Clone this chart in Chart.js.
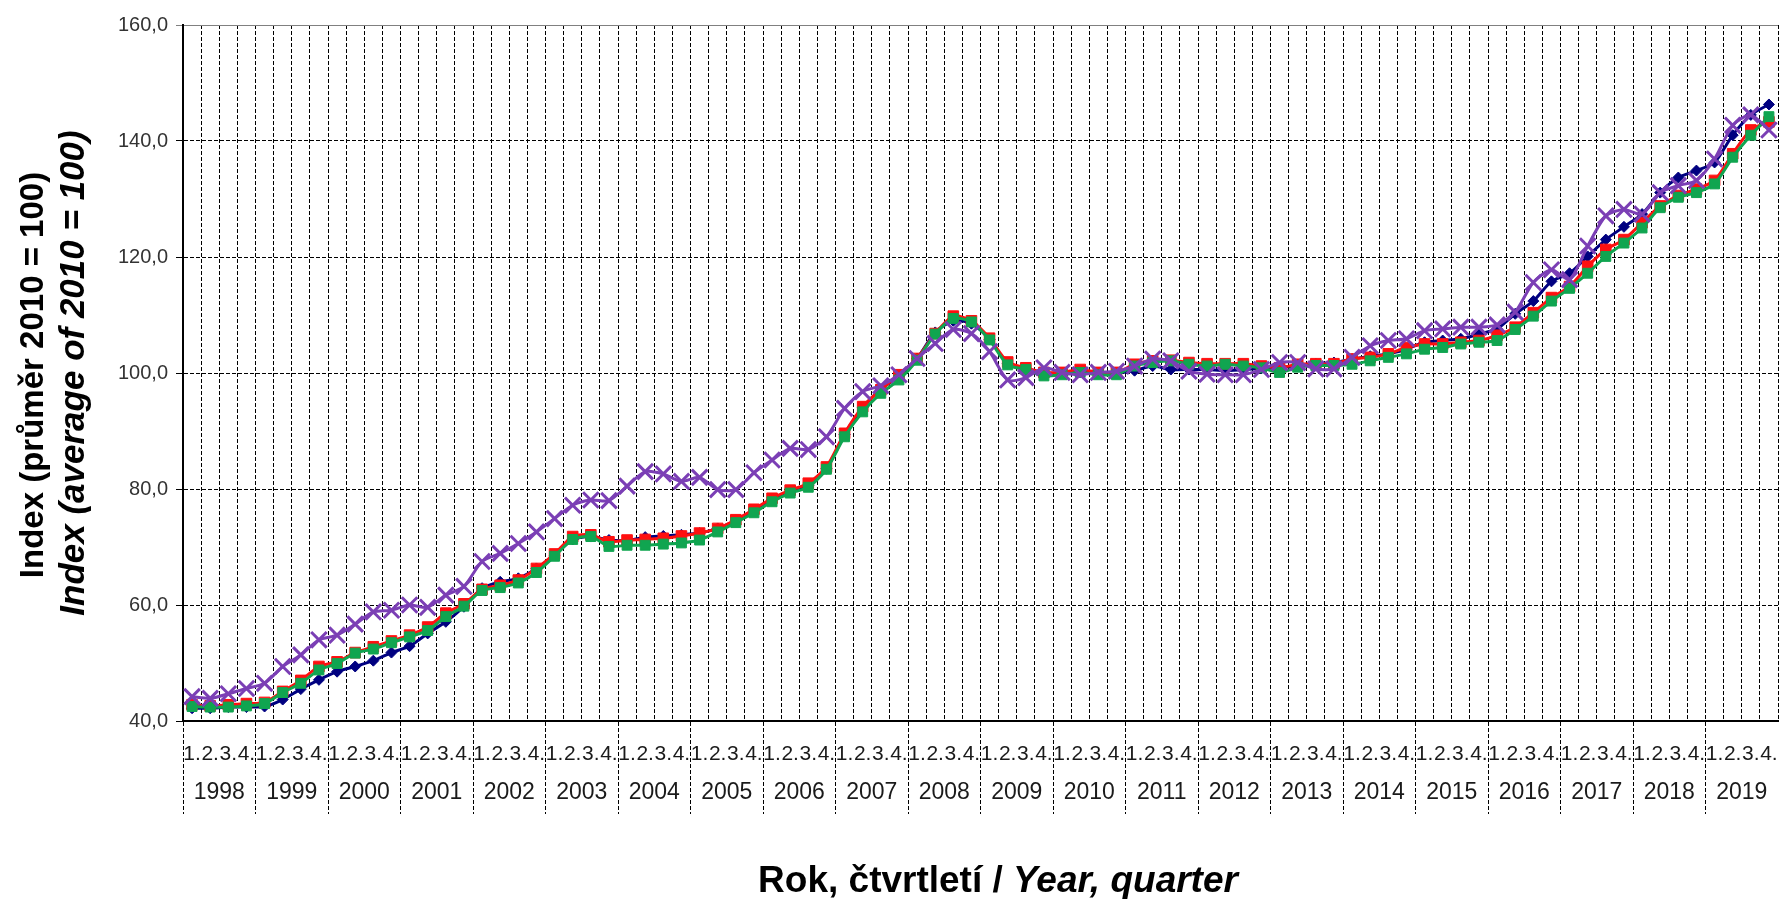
<!DOCTYPE html>
<html>
<head>
<meta charset="utf-8">
<script src="https://cdn.jsdelivr.net/npm/chart.js@4.4.1/dist/chart.umd.min.js"></script>
<style>
  html, body { margin: 0; padding: 0; background: #fff; overflow: hidden; }
  #wrap { position: absolute; left: 0; top: 0; width: 1792px; height: 899px; }
</style>
</head>
<body>
<div id="wrap"><canvas id="indexChart"></canvas></div>
<script>
// Popisky os
const yearLabels = ['1998', '1999', '2000', '2001', '2002', '2003', '2004', '2005', '2006', '2007', '2008',
                    '2009', '2010', '2011', '2012', '2013', '2014', '2015', '2016', '2017', '2018', '2019'];
const quarterLabels = ['1.', '2.', '3.', '4.'];
const yTicks = [40, 60, 80, 100, 120, 140, 160];

const xTitleBold = 'Rok, čtvrtletí / ';
const xTitleItalic = 'Year, quarter';
const yTitleCz = 'Index (průměr 2010 = 100)';
const yTitleEn = 'Index (average of 2010 = 100)';

// Hodnoty indexu po čtvrtletích (1998 Q1 – 2019 Q4)
const navySeries = [
    42.2, 42.2, 42.4, 42.4, 42.5, 43.7, 45.5, 47.1, 48.5, 49.4, 50.4, 51.8, 52.9, 55.1, 57.1, 59.7,
    62.9, 64.0, 64.6, 66.3, 68.6, 71.3, 71.8, 71.2, 71.1, 71.7, 71.9, 72.1, 72.4, 73.2, 74.6, 76.4,
    78.2, 79.6, 80.6, 83.5, 89.4, 94.0, 97.2, 99.4, 102.5, 107.0, 109.0, 108.5, 105.8, 101.6,
    100.5, 100.0, 100.0, 100.2, 99.9, 100.0, 100.4, 101.2, 100.6, 100.6, 100.6, 100.4, 100.6, 100.8, 101.0, 101.2,
    101.6, 101.8, 102.4, 102.9, 103.3, 104.1, 105.3, 105.6, 105.9, 106.7, 107.6, 110.2, 112.4, 115.8,
    117.2, 120.1, 123.0, 125.2, 127.4, 131.1, 133.7, 134.9, 136.3, 141.0, 144.5, 146.3
];
const redSeries = [
    42.8, 42.6, 42.8, 43.0, 43.2, 45.1, 47.0, 49.4, 50.2, 51.8, 52.8, 53.8, 54.8, 56.2, 58.6, 60.2,
    62.7, 63.4, 64.3, 66.3, 68.8, 71.8, 72.1, 70.9, 71.2, 71.3, 71.5, 71.9, 72.4, 73.2, 74.7, 76.5,
    78.4, 79.8, 81.0, 83.8, 89.6, 94.2, 97.1, 99.7, 102.5, 106.8, 109.8, 109.0, 106.0, 101.9,
    100.9, 100.1, 100.1, 100.6, 100.1, 100.1, 101.5, 102.1, 102.2, 101.8, 101.6, 101.6, 101.6, 101.2, 100.9, 101.5,
    101.6, 101.6, 102.4, 102.7, 103.3, 104.4, 105.0, 105.0, 105.3, 105.6, 106.5, 107.9, 110.4, 113.0,
    114.9, 118.4, 121.3, 123.0, 125.9, 128.8, 130.6, 131.7, 133.2, 137.8, 141.9, 143.3
];
const greenSeries = [
    42.5, 42.4, 42.4, 42.6, 43.0, 44.9, 46.5, 48.8, 49.9, 51.7, 52.4, 53.5, 54.5, 55.6, 58.0, 59.8,
    62.5, 63.0, 63.8, 65.6, 68.4, 71.3, 71.8, 70.1, 70.3, 70.3, 70.5, 70.7, 71.2, 72.6, 74.2, 75.9,
    77.8, 79.3, 80.3, 83.4, 89.0, 93.3, 96.5, 98.8, 102.2, 106.7, 109.4, 108.8, 105.7, 101.4,
    100.6, 99.5, 99.7, 100.1, 99.7, 99.7, 101.2, 101.8, 102.1, 101.5, 101.2, 101.5, 101.2, 100.9, 100.1, 101.0,
    101.3, 101.3, 101.5, 102.1, 102.7, 103.3, 104.1, 104.4, 105.0, 105.3, 105.6, 107.5, 109.8, 112.4,
    114.6, 117.2, 120.1, 122.4, 125.0, 128.5, 130.3, 131.1, 132.6, 137.2, 141.0, 144.2
];
const purpleSeries = [
    44.2, 43.9, 44.7, 45.6, 46.5, 49.4, 51.4, 54.0, 54.8, 56.7, 58.8, 59.1, 60.0, 59.6, 61.7, 63.2,
    67.5, 68.9, 70.6, 72.6, 74.9, 77.2, 78.1, 78.0, 80.5, 83.0, 82.6, 81.3, 82.0, 79.9, 79.9, 82.8,
    85.0, 87.0, 86.8, 89.0, 93.9, 96.8, 97.8, 99.7, 102.5, 105.1, 107.5, 106.8, 103.7, 98.8,
    99.2, 100.9, 100.1, 99.7, 100.1, 100.3, 101.2, 102.4, 102.1, 100.3, 99.8, 99.7, 99.7, 100.6, 101.8, 101.8,
    100.7, 100.7, 102.7, 104.7, 105.6, 105.9, 107.3, 107.6, 107.9, 107.9, 108.3, 110.5, 115.6, 117.8,
    116.1, 121.9, 127.1, 128.2, 127.4, 131.1, 132.3, 133.2, 136.9, 142.7, 144.5, 141.9
];

const categories = yearLabels.flatMap(y => quarterLabels.map(q => q + ' ' + y));
const chartFont = "'Liberation Sans', Arial, sans-serif";

// Popisky čtvrtletí, roků a názvy os
const axisLabels = {
    id: 'axisLabels',
    afterDraw(chart) {
        const ctx = chart.ctx;
        const x = chart.scales.x;
        const area = chart.chartArea;
        ctx.save();
        ctx.fillStyle = '#1a1a1a';
        ctx.textAlign = 'center';
        ctx.textBaseline = 'middle';

        ctx.font = '21px ' + chartFont;
        categories.forEach((c, i) => {
            ctx.fillText(quarterLabels[i % 4], x.getPixelForValue(i), area.bottom + 33);
        });

        ctx.font = '23px ' + chartFont;
        yearLabels.forEach((y, k) => {
            const cx = (x.getPixelForValue(4 * k) + x.getPixelForValue(4 * k + 3)) / 2;
            ctx.fillText(y, cx, area.bottom + 72);
        });

        // Název osy x
        ctx.fillStyle = '#000';
        ctx.font = 'bold 37px ' + chartFont;
        const w1 = ctx.measureText(xTitleBold).width;
        ctx.font = 'italic bold 37px ' + chartFont;
        const w2 = ctx.measureText(xTitleItalic).width;
        const sx = 998 - (w1 + w2) / 2;
        ctx.textAlign = 'left';
        ctx.font = 'bold 37px ' + chartFont;
        ctx.fillText(xTitleBold, sx, 882);
        ctx.font = 'italic bold 37px ' + chartFont;
        ctx.fillText(xTitleItalic, sx + w1, 882);

        // Název osy y (dva řádky)
        const cy = (area.top + area.bottom) / 2;
        ctx.textAlign = 'center';
        ctx.save();
        ctx.translate(34, cy + 2);
        ctx.rotate(-Math.PI / 2);
        ctx.font = 'bold 33px ' + chartFont;
        ctx.fillText(yTitleCz, 0, 0);
        ctx.restore();
        ctx.save();
        ctx.translate(74, cy);
        ctx.rotate(-Math.PI / 2);
        ctx.font = 'italic bold 35px ' + chartFont;
        ctx.fillText(yTitleEn, 0, 0);
        ctx.restore();

        ctx.restore();
    }
};

const ctx = document.getElementById('indexChart').getContext('2d');

new Chart(ctx, {
    type: 'line',
    data: {
        labels: categories,
        datasets: [
            {
                label: 'navy',
                data: navySeries,
                borderColor: '#000080',
                backgroundColor: '#000080',
                borderWidth: 3,
                pointStyle: 'rectRot',
                pointRadius: 5.5,
                pointBorderWidth: 1,
                tension: 0.25,
                order: 4
            },
            {
                label: 'red',
                data: redSeries,
                borderColor: '#ff1010',
                backgroundColor: '#ff1010',
                borderWidth: 3,
                pointStyle: 'rect',
                pointRadius: 7.5,
                pointBorderWidth: 1,
                tension: 0.25,
                order: 3
            },
            {
                label: 'green',
                data: greenSeries,
                borderColor: '#10a550',
                backgroundColor: '#10a550',
                borderWidth: 3,
                pointStyle: 'rect',
                pointRadius: 7,
                pointBorderWidth: 1,
                tension: 0.25,
                order: 2
            },
            {
                label: 'purple',
                data: purpleSeries,
                borderColor: '#7b3fb5',
                backgroundColor: '#7b3fb5',
                borderWidth: 3,
                pointStyle: 'crossRot',
                pointRadius: 11,
                pointBorderWidth: 3,
                tension: 0.25,
                order: 1
            }
        ]
    },
    options: {
        responsive: true,
        maintainAspectRatio: false,
        animation: false,
        layout: { padding: { top: 25, right: 1, left: 0, bottom: 0 } },
        plugins: {
            legend: { display: false },
            tooltip: { enabled: false }
        },
        scales: {
            x: {
                offset: true,
                afterFit: function(scale) { scale.height = 178; },
                grid: {
                    offset: true,
                    color: '#000',
                    lineWidth: 1,
                    drawTicks: true,
                    tickLength: 93,
                    tickBorderDash: [4, 2],
                    tickColor: function(c) { return c.index % 4 === 0 ? '#000' : 'rgba(0,0,0,0)'; }
                },
                border: { display: true, color: '#000', width: 2, dash: [4, 2] },
                ticks: { display: false }
            },
            y: {
                min: 40,
                max: 160,
                afterFit: function(scale) { scale.width = 183; },
                afterBuildTicks: function(scale) {
                    scale.ticks = yTicks.map(v => ({ value: v }));
                },
                grid: {
                    color: function(c) { return c.tick && c.tick.value === 160 ? '#808080' : '#000'; },
                    lineWidth: 1,
                    tickLength: 7
                },
                border: {
                    display: true,
                    color: '#000',
                    width: 2,
                    dash: function(c) { return c.tick && c.tick.value === 160 ? [] : [4, 2]; }
                },
                ticks: {
                    padding: 8,
                    color: '#333',
                    font: { family: chartFont, size: 20 },
                    callback: function(value) {
                        return value.toFixed(1).replace('.', ',');
                    }
                }
            }
        }
    },
    plugins: [axisLabels]
});
</script>
</body>
</html>
